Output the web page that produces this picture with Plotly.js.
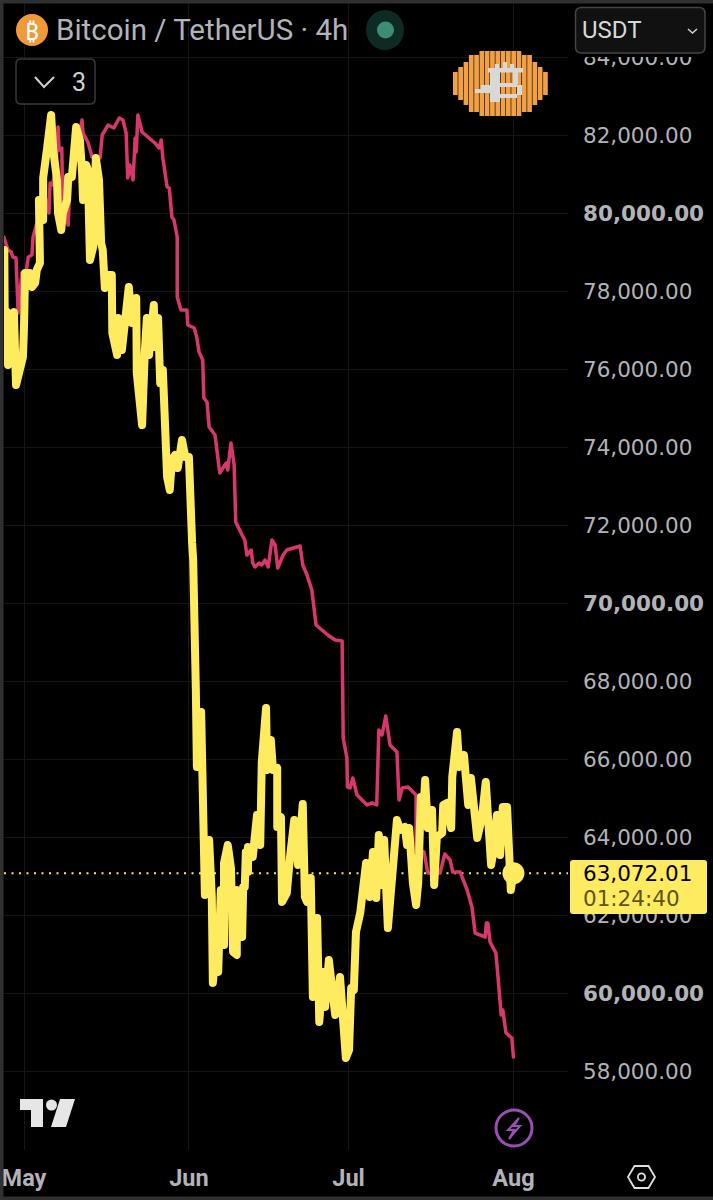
<!DOCTYPE html>
<html>
<head>
<meta charset="utf-8">
<script src="https://cdn.plot.ly/plotly-3.0.0.min.js"></script>
<style>html,body{margin:0;padding:0;background:#000}#chart{width:713px;height:1200px}
path.js-line{stroke-linejoin:round !important;stroke-linecap:round !important}</style>
</head>
<body>
<div id="chart"></div>
<script>
// Days counted from 1 May, prices in USDT
const yellowDays = [-3.7,-3.6,-3.2,-3.0,-2.4,-1.9,-1.5,-0.9,-0.2,0,0.2,1.1,1.5,2.1,2.4,3.0,2.8,3.6,3.6,4.3,5.1,5.5,6.2,6.4,7.0,7.3,8.1,8.3,9.0,9.8,10.5,10.9,11.1,11.7,12.0,12.4,13.0,13.5,14.1,14.5,14.8,15.2,15.8,16.5,16.6,17.5,17.7,18.4,19.0,19.4,19.7,20.3,21.1,21.2,22.2,22.7,23.1,23.5,23.9,24.4,24.6,25.2,25.6,26.1,26.9,27.4,27.8,28.4,28.9,29.7,30.3,31.0,31.6,31.8,32.3,32.5,33.3,33.6,34.0,34.8,35.3,35.5,36.1,36.5,37.0,37.6,37.6,38.3,38.9,39.3,40.0,40.0,41.0,41.2,41.5,41.7,42.1,42.1,43.0,43.8,44.4,44.7,45.5,45.7,46.4,46.8,47.6,47.6,48.3,48.5,49.4,50.0,50.8,51.5,52.4,52.8,53.2,53.9,54.3,55.1,55.5,56.2,56.6,57.3,57.9,58.5,59.4,60.0,60.5,61.1,61.5,62.0,62.1,62.4,63.2,63.7,64.3,65.0,65.6,66.2,66.7,67.3,67.7,68.4,69.4,69.7,70.1,70.7,71.6,72.0,72.4,73.1,73.7,74.1,74.6,75.0,75.4,75.9,76.7,77.1,77.6,78.6,78.8,79.5,80.3,80.5,81.4,81.8,82.7,83.5,84.0,85.2,86.1,86.8,87.8,88.2,88.9,89.5,90.0,90.8,91.5,92.0];
const yellowPrices = [79051,76692,77461,76103,77256,77461,75590,75846,76307,77077,78461,78461,78102,78205,78538,78718,80333,79820,80897,81615,82512,81615,80846,80000,79564,80000,80333,80923,80923,82205,81871,81102,80333,81230,81102,78795,79128,81410,80846,79230,79051,78077,78410,78410,76923,76359,77307,76487,77333,77692,78102,77179,77820,75897,74564,76410,77307,76359,77333,77641,76564,77307,75641,75974,73231,72897,73667,73795,73462,74179,73743,73743,71538,71102,67769,65795,67205,64102,62513,63923,62461,60257,61103,60539,62641,61231,63334,63795,63205,61052,60975,62641,61436,62718,62718,63615,63103,63744,63487,64564,63795,65923,67308,65718,66487,65718,65769,64257,64513,62334,62564,63487,64436,63282,64846,62461,62334,62949,59898,61923,59257,60539,59641,60846,60000,59436,60410,59564,58334,58539,60128,60077,61052,61564,62052,62564,63334,62461,63615,62436,64052,62769,63923,61667,63205,63923,64436,64180,64257,63795,64231,62821,62257,62821,65026,64436,65462,64231,64692,62769,63999,64102,64821,64872,64231,65538,66692,65795,66103,64821,65513,63974,64513,65410,63282,63590,64564,63539,64769,64769,62641,63072.01];
const redDays = [-3.8,-3.0,-2.4,-2.1,-1.5,-1.1,-0.4,0.4,0.8,1.5,1.7,3.9,4.7,4.9,5.3,6.0,6.4,6.6,7.1,7.3,8.3,8.6,9.8,10.9,11.1,12.0,12.8,14.3,14.7,15.8,16.9,17.9,18.6,19.2,19.5,19.9,20.5,20.9,21.1,21.4,22.2,23.3,24.6,25.4,25.8,26.1,26.9,27.3,27.8,28.2,28.8,28.8,29.5,30.6,30.8,32.0,32.5,32.9,33.6,33.8,34.4,34.8,35.9,36.8,38.0,38.3,38.9,39.5,39.8,41.0,41.5,41.9,42.7,43.0,43.4,44.2,44.7,45.3,45.9,46.6,47.2,47.7,48.7,49.4,50.6,51.9,52.4,53.2,54.1,54.9,56.0,57.1,58.5,59.8,60.0,60.7,60.8,61.3,61.8,62.6,64.5,65.4,66.3,66.7,67.3,68.0,68.8,70.1,70.5,71.1,72.2,73.7,73.7,75.2,75.9,78.2,79.1,80.1,80.6,82.0,83.3,84.2,84.8,86.7,86.9,87.2,87.6,88.7,89.1,89.7,90.0,90.6,91.7,91.9,92.0];
const redPrices = [79384,79051,79000,78872,78846,77436,78461,78487,78872,78923,79384,80461,80000,80769,80718,81102,82205,81615,81666,80153,79692,80666,81615,82384,82051,81820,81436,81410,82000,82256,82179,82435,82384,82051,80897,81230,80846,81923,81564,82512,82077,81948,81795,81666,81871,81410,80666,80641,79897,79820,79384,77846,77513,77513,77128,77051,76795,76436,76231,75256,75154,74513,74308,73333,73590,73410,74102,73538,72077,71743,71615,71230,71359,71026,70923,71026,70974,71103,70923,71615,71487,70897,71231,71359,71410,71461,70974,70718,70333,69436,69308,69180,69051,69026,66539,66026,65282,65257,65513,65077,64821,64872,64821,66744,66615,67103,66359,66180,64949,65257,65282,65077,63667,63615,63077,63077,63564,63410,63102,63102,62641,62205,61538,61436,61795,61795,61308,61026,60410,59436,59564,58974,58846,58359,58359];
const priceTicks = [84000,82000,80000,78000,76000,74000,72000,70000,68000,66000,64000,62000,60000,58000];
const priceLabels = ['84,000.00','82,000.00','<b>80,000.00</b>','78,000.00','76,000.00','74,000.00','72,000.00','<b>70,000.00</b>','68,000.00','66,000.00','64,000.00','62,000.00','<b>60,000.00</b>','58,000.00'];
const monthTicks = ['2024-05-01','2024-06-01','2024-07-01','2024-08-01'];
const monthLabels = ['May','Jun','Jul','Aug'];
const lastPrice = 63072.01;
const lastPriceText = '63,072.01';
const countdownText = '01:24:40';
const titleText = 'Bitcoin / TetherUS · 4h';
const quoteText = 'USDT';
const collapsedCount = '3';

const YELLOW = '#FFEB5F', RED = '#D6386C', LABEL = '#B2B3B9', GRID = '#161616';
const W = 713, H = 1200, L = 4, R = 568, T = 4, B = 1150;
const fx = x => (x - L) / (R - L), fy = y => (B - y) / (B - T);
const toDate = d => new Date(Date.UTC(2024, 4, 1) + d * 864e5).toISOString().slice(0, 19).replace('T', ' ');
// pixel path -> paper path: pairs of numbers after letters
const pp = s => s.replace(/(-?[\d.]+) (-?[\d.]+)/g, (m, a, b) => fx(+a).toFixed(6) + ',' + fy(+b).toFixed(6));
const pathShape = (s, o) => Object.assign({type:'path', xref:'paper', yref:'paper', path:pp(s), line:{width:0}}, o);
const rectShape = (x0,y0,x1,y1,o) => Object.assign({type:'rect', xref:'paper', yref:'paper', x0:fx(x0), x1:fx(x1), y0:fy(y0), y1:fy(y1), line:{width:0}}, o);
const circShape = (cx,cy,rx,ry,o) => Object.assign({type:'circle', xref:'paper', yref:'paper', x0:fx(cx-rx), x1:fx(cx+rx), y0:fy(cy-ry), y1:fy(cy+ry), line:{width:0}}, o);
const rr = (x0,y0,x1,y1,r) => `M${x0+r} ${y0} L${x1-r} ${y0} Q${x1} ${y0} ${x1} ${y0+r} L${x1} ${y1-r} Q${x1} ${y1} ${x1-r} ${y1} L${x0+r} ${y1} Q${x0} ${y1} ${x0} ${y1-r} L${x0} ${y0+r} Q${x0} ${y0} ${x0+r} ${y0} Z`;
const note = (text,x,y,size,color,anchor,family) => ({text, xref:'paper', yref:'paper', x:fx(x), y:fy(y), xanchor:anchor||'left', yanchor:'middle', showarrow:false, font:{size, color, family:family||'Roboto, sans-serif'}});

const shapes = [];
// last price dotted line
shapes.push({type:'line', xref:'paper', yref:'y', x0:0, x1:1, y0:lastPrice, y1:lastPrice, layer:'below', line:{color:YELLOW, width:2, dash:'2px,5.5px'}});
// strip hiding the clipped top label
shapes.push(rectShape(570,4,713,57,{fillcolor:'#000'}));
// outer frame
shapes.push(rectShape(0,0,713,3.5,{fillcolor:'#303030'}));
shapes.push(rectShape(0,1196.5,713,1200,{fillcolor:'#303030'}));
shapes.push(rectShape(0,0,3.5,1200,{fillcolor:'#303030'}));
// symbol logo + status dot
shapes.push(circShape(32,30,16,16,{fillcolor:'#F09A3A'}));
shapes.push(circShape(385,30,19,20,{fillcolor:'#0E2A24'}));
shapes.push(circShape(385.5,30,8.5,8.5,{fillcolor:'#3F8C74'}));
// collapsed indicators box
shapes.push(pathShape(rr(16,59,95,104,5),{fillcolor:'#000', line:{color:'#3A3A3A', width:1.5}}));
shapes.push(pathShape('M35 77 L44 87 L54 77',{line:{color:'#D0D0D0', width:2}}));
// currency box
shapes.push(pathShape(rr(575.5,7.5,705,53,6),{fillcolor:'#111', line:{color:'#454545', width:1.5}}));
shapes.push(pathShape('M688 29 L692.5 33 L697 29',{line:{color:'#D0D0D0', width:1.6}}));
// pixel coin
const coinTops = [72,67,62,55,55,51,51,51,51];
for (let i = 0; i < 18; i++) {
  const t = coinTops[i < 9 ? i : 17 - i], b = 167 - t, x = 453 + i * 5.3;
  shapes.push(rectShape(x, t, x + 4.7, b, {fillcolor:'#F2A044'}));
}
[[488,68,523,72.5],[495,64,499,68],[503,62,507,68],[510,64,514,68],[490,72,500,102],[475,89,490,93],[481,85,490,89.5],[513,72,518,84],[500,83,517,87],[517,85,522,95],[500,94,517,98]].forEach(r => shapes.push(rectShape(r[0],r[1],r[2],r[3],{fillcolor:'#D8D8D8'})));
// price tag
shapes.push(pathShape(rr(570,860,707,914,3),{fillcolor:YELLOW}));
// TradingView-style mark
shapes.push(pathShape('M20 1099 L43 1099 L43 1127 L31 1127 L31 1110 L20 1110 Z',{fillcolor:'#E6E6E6'}));
shapes.push(circShape(51.5,1105,5.5,5.5,{fillcolor:'#E6E6E6'}));
shapes.push(pathShape('M60 1099 L75 1099 L66 1127 L51 1127 Z',{fillcolor:'#E6E6E6'}));
// bolt badge
shapes.push(circShape(514,1128,18,18,{fillcolor:'#000', line:{color:'#9A4FB4', width:3}}));
shapes.push(pathShape('M519 1118 L508 1130 L514 1130 L509 1139 L520 1126 L514 1126 Z',{line:{color:'#9A4FB4', width:2}}));
// settings hexagon
shapes.push(pathShape('M628 1177 L634.5 1166 L648.5 1166 L655 1177 L648.5 1188 L634.5 1188 Z',{line:{color:'#E0E0E0', width:1.8}}));
shapes.push(circShape(641.5,1177,3.6,3.6,{line:{color:'#E0E0E0', width:1.8}}));

const annotations = [
  note('₿',32,30,24,'#FFFFFF','center','"Noto Sans", Roboto, sans-serif'),
  note(titleText,54,30,29.5,LABEL),
  note(collapsedCount,79,82,25,'#D0D0D0','center'),
  note(quoteText,580,30,24,'#D8D8D8'),
  note(lastPriceText,581,873,21.5,'#000000','left','"DejaVu Sans", sans-serif'),
  note(countdownText,581,898,21.5,'#5C5518','left','"DejaVu Sans", sans-serif')
];

const traces = [
  {x:redDays.map(toDate), y:redPrices, type:'scatter', mode:'lines', line:{color:RED, width:3.5, shape:'linear'}, hoverinfo:'skip'},
  {x:yellowDays.map(toDate), y:yellowPrices, type:'scatter', mode:'lines', line:{color:YELLOW, width:8, shape:'linear'}, hoverinfo:'skip'},
  {x:[toDate(yellowDays[yellowDays.length-1])], y:[lastPrice], type:'scatter', mode:'markers', marker:{color:YELLOW, size:22}, hoverinfo:'skip'}
];

const pxPerDay = 5.32, pxPerUsd = 0.039;
const layout = {
  width:W, height:H, showlegend:false,
  paper_bgcolor:'#000', plot_bgcolor:'#000',
  margin:{l:L, r:W-R, t:T, b:H-B, pad:0, autoexpand:false},
  xaxis:{type:'date', range:[toDate((L-24)/pxPerDay), toDate((R-24)/pxPerDay)], tickmode:'array', tickvals:monthTicks, ticktext:monthLabels,
    showgrid:true, gridcolor:GRID, gridwidth:1, zeroline:false, showline:false, ticks:'', ticklabelstandoff:11,
    tickfont:{family:'Roboto, sans-serif', size:23.5, color:LABEL, weight:700}},
  yaxis:{side:'right', range:[82000-(B-135)/pxPerUsd, 82000+(135-T)/pxPerUsd], tickmode:'array', tickvals:priceTicks, ticktext:priceLabels,
    showgrid:true, gridcolor:GRID, gridwidth:1, zeroline:false, showline:false, ticks:'', ticklabelstandoff:14,
    tickfont:{family:'"DejaVu Sans", sans-serif', size:21.5, color:LABEL}},
  shapes, annotations
};
Plotly.newPlot('chart', traces, layout, {displayModeBar:false, staticPlot:true});
</script>
</body>
</html>
